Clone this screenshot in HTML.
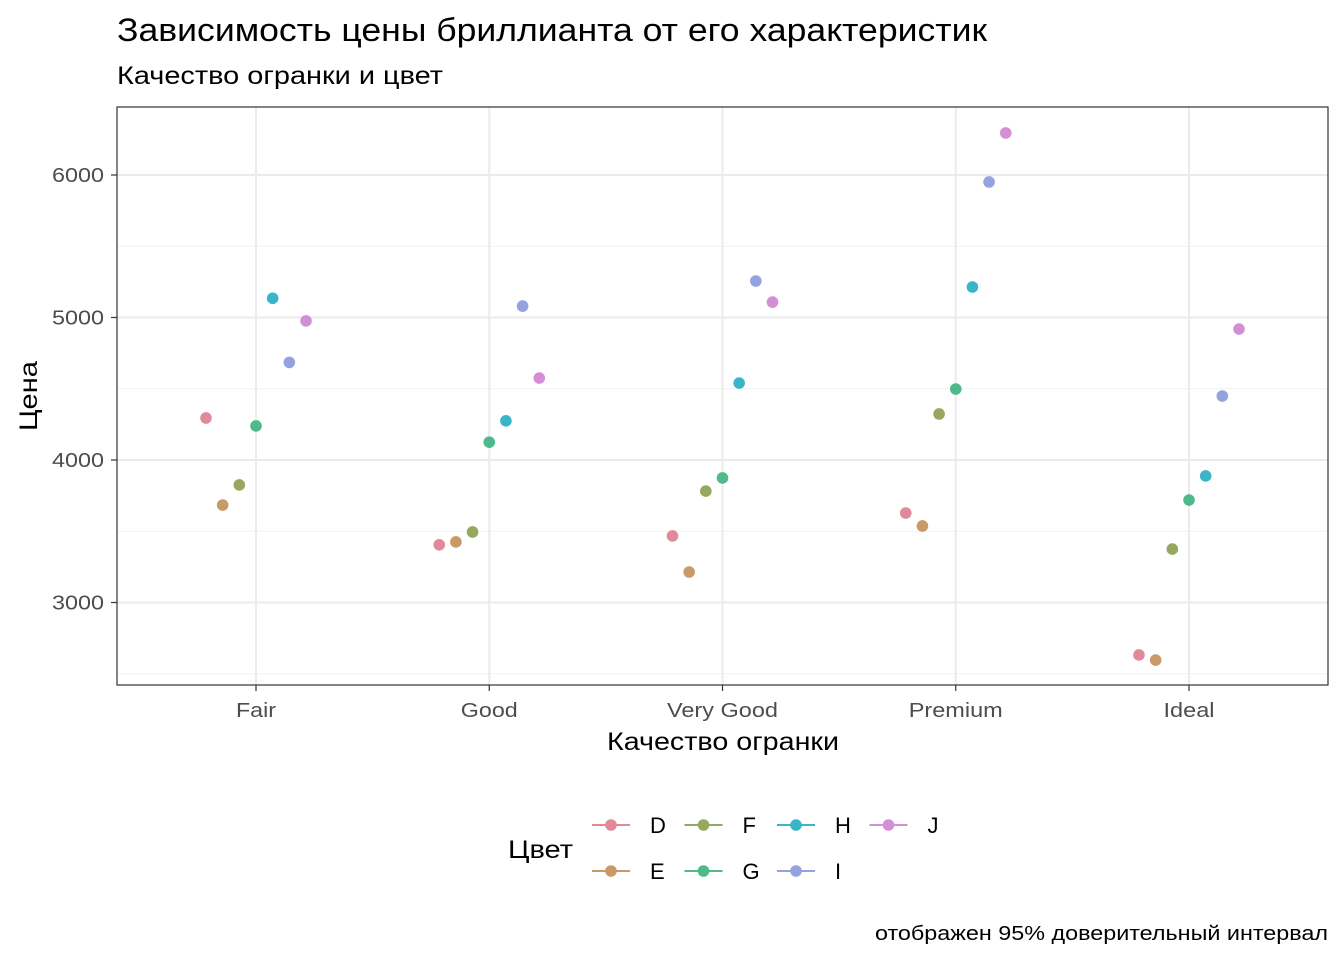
<!DOCTYPE html>
<html><head><meta charset="utf-8"><style>
body{margin:0;background:#fff;font-family:"Liberation Sans","DejaVu Sans",sans-serif;}
</style></head><body>
<svg id="chart" width="1344" height="960" xmlns="http://www.w3.org/2000/svg" font-family="Liberation Sans, DejaVu Sans, sans-serif">
<rect width="1344" height="960" fill="#fff"/>
<text x="117" y="41" font-size="32" fill="#000" textLength="870" lengthAdjust="spacingAndGlyphs">Зависимость цены бриллианта от его характеристик</text>
<text x="117" y="84" font-size="25" fill="#000" textLength="326" lengthAdjust="spacingAndGlyphs">Качество огранки и цвет</text>
<g id="grid"></g>
<g id="marks"></g>
<rect x="117" y="107" width="1211" height="578" fill="none" stroke="#333" stroke-width="1.2"/>
<g id="axes"></g>
<text x="607" y="750" font-size="25" textLength="232" lengthAdjust="spacingAndGlyphs">Качество огранки</text>
<text transform="translate(37,431) rotate(-90)" font-size="25" textLength="70" lengthAdjust="spacingAndGlyphs">Цена</text>
<text x="508" y="858" font-size="25" textLength="65" lengthAdjust="spacingAndGlyphs">Цвет</text>
<g id="legend"></g>
<text x="875" y="940" font-size="20" textLength="453" lengthAdjust="spacingAndGlyphs">отображен 95% доверительный интервал</text>
</svg>
<script>
const categories=["Fair","Good","Very Good","Premium","Ideal"];
const colorsNames=["D","E","F","G","H","I","J"];
const priceD=[4295,3405,3467,3628,2632];
const priceE=[3684,3425,3214,3537,2596];
const priceF=[3825,3495,3782,4323,3375];
const priceG=[4239,4125,3874,4498,3719];
const priceH=[5135,4275,4540,5214,3888];
const priceI=[4685,5080,5256,5951,4449];
const priceJ=[4976,4575,5108,6295,4919];
const yTicks=[3000,4000,5000,6000];
const yMinor=[2500,3500,4500,5500];
const series=[priceD,priceE,priceF,priceG,priceH,priceI,priceJ];
const pal=["#e0899a","#c99a68","#96a85e","#4fb98b","#3ab5c8","#94a3e0","#d38fd6"];
const catW={"Fair":40,"Good":57,"Very Good":111,"Premium":94,"Ideal":51};
const NS="http://www.w3.org/2000/svg";
function y(v){return 460-(v-4000)*0.1425;}
function x(i){return 256+i*233.25;}
function mk(p,t,a){const e=document.createElementNS(NS,t);for(const k in a)e.setAttribute(k,a[k]);p.appendChild(e);return e;}
const grid=document.getElementById('grid'),axes=document.getElementById('axes'),marks=document.getElementById('marks'),leg=document.getElementById('legend');
yMinor.forEach(v=>{const l=mk(grid,'line',{x1:117,x2:1328,y1:y(v),y2:y(v),stroke:'#f2f2f2','stroke-width':1});

});
yTicks.forEach(v=>{const l=mk(grid,'line',{x1:117,x2:1328,y1:y(v),y2:y(v),stroke:'#ebebeb','stroke-width':2});


const t=mk(axes,'text',{x:52,y:y(v)+7,'font-size':20,fill:'#4d4d4d',textLength:52,lengthAdjust:'spacingAndGlyphs'});t.textContent=v;


mk(axes,'line',{x1:111,x2:117,y1:y(v),y2:y(v),stroke:'#333','stroke-width':1.2});});
categories.forEach((c,i)=>{const l=mk(grid,'line',{x1:x(i),x2:x(i),y1:107,y2:685,stroke:'#ebebeb','stroke-width':2});


mk(axes,'line',{x1:x(i),x2:x(i),y1:685,y2:691,stroke:'#333','stroke-width':1.2});
const w=catW[c];
const t=mk(axes,'text',{x:x(i)-w/2,y:717,'font-size':20,fill:'#4d4d4d',textLength:w,lengthAdjust:'spacingAndGlyphs'});t.textContent=c;

});
series.forEach((s,k)=>{s.forEach((v,i)=>{const c=mk(marks,'circle',{cx:x(i)+(k-3)*16.67,cy:y(v),r:5.8,fill:pal[k]});

});});
colorsNames.forEach((n,k)=>{const col=Math.floor(k/2),row=k%2;const kx=592+col*92.5,ky=825+row*46;
const g=mk(leg,'g',{});


mk(g,'line',{x1:kx,x2:kx+38,y1:ky,y2:ky,stroke:pal[k],'stroke-width':2});
mk(g,'circle',{cx:kx+19,cy:ky,r:5.8,fill:pal[k]});
const t=mk(g,'text',{x:kx+58,y:ky+8,'font-size':22});t.textContent=n;});
</script>
</body></html>
